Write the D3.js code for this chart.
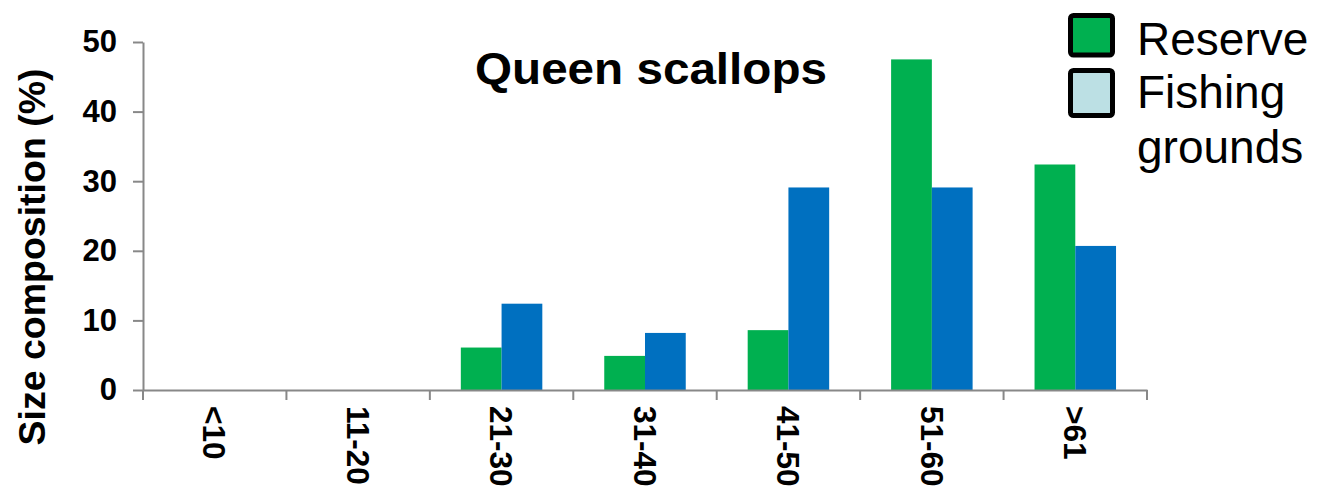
<!DOCTYPE html>
<html>
<head>
<meta charset="utf-8">
<script src="https://cdn.jsdelivr.net/npm/d3@7"></script>
<style>
  html, body { margin: 0; padding: 0; background: #fff; }
  svg { display: block; font-family: "Liberation Sans", Arial, sans-serif; }
</style>
</head>
<body>
<svg id="chart" width="1318" height="494"></svg>
<script>
const categories = ["<10", "11-20", "21-30", "31-40", "41-50", "51-60", ">61"];
const seriesNames = ["Reserve", "Fishing grounds"];
const reserveValues = [0, 0, 6.1, 4.9, 8.6, 47.5, 32.4];
const fishingValues = [0, 0, 12.4, 8.2, 29.1, 29.1, 20.7];
const yTicks = [0, 10, 20, 30, 40, 50];
const titleText = "Queen scallops";
const yLabel = "Size composition (%)";

const barColors = {"Reserve": "#00B050", "Fishing grounds": "#0070C0"};
const legendColors = {"Reserve": "#00B050", "Fishing grounds": "#BCE0E4"};

const svg = d3.select("#chart");
const plotLeft = 143, plotRight = 1147, plotTop = 42, plotBottom = 390;

const x0 = d3.scaleBand().domain(categories).range([plotLeft, plotRight]).paddingInner(0).paddingOuter(0);
const x1 = d3.scaleBand().domain(seriesNames).range([0, x0.bandwidth()]).paddingInner(0).paddingOuter(0.76);
const y = d3.scaleLinear().domain([0, 50]).range([plotBottom, plotTop]);

const data = categories.map((c, i) => ({cat: c, vals: [
  {s: "Reserve", v: reserveValues[i]},
  {s: "Fishing grounds", v: fishingValues[i]}
]}));

// bars
const g = svg.append("g");
g.selectAll("g.cat").data(data).join("g")
  .attr("class", "cat")
  .attr("transform", d => `translate(${x0(d.cat)},0)`)
  .selectAll("rect").data(d => d.vals.filter(e => e.v > 0)).join("rect")
  .attr("x", d => x1(d.s))
  .attr("y", d => y(d.v))
  .attr("width", x1.bandwidth())
  .attr("height", d => y(0) - y(d.v))
  .attr("fill", d => barColors[d.s]);

// y axis
const yAxis = svg.append("g").attr("transform", `translate(${plotLeft},0)`)
  .call(d3.axisLeft(y).tickValues(yTicks).tickSize(10).tickSizeOuter(0).tickPadding(16));
yAxis.select(".domain").attr("stroke", "#888").attr("stroke-width", 2);
yAxis.selectAll(".tick line").attr("stroke", "#888").attr("stroke-width", 2);
yAxis.selectAll(".tick text").attr("font-size", 31).attr("font-weight", "bold")
  .attr("fill", "#000").attr("font-family", "Liberation Sans, Arial, sans-serif");

// x axis
const xAxis = svg.append("g").attr("transform", `translate(0,${plotBottom})`)
  .call(d3.axisBottom(x0).tickSize(0).tickFormat(""));
xAxis.select(".domain").attr("stroke", "#888").attr("stroke-width", 2);
xAxis.selectAll(".tick line").remove();
const boundaries = categories.map(c => x0(c)).concat([plotRight]);
xAxis.selectAll("line.bound").data(boundaries).join("line")
  .attr("class", "bound")
  .attr("x1", d => d).attr("x2", d => d)
  .attr("y1", 0).attr("y2", 10)
  .attr("stroke", "#888").attr("stroke-width", 2);

svg.append("g").selectAll("text").data(categories).join("text")
  .attr("transform", d => `translate(${x0(d) + x0.bandwidth() / 2},406) rotate(90)`)
  .attr("dy", "0.36em")
  .attr("text-anchor", "start")
  .attr("font-size", 31.5).attr("font-weight", "bold")
  .text(d => d);

// y label
svg.append("text")
  .attr("transform", `translate(45,257) rotate(-90)`)
  .attr("text-anchor", "middle")
  .attr("font-size", 37.5).attr("font-weight", "bold")
  .text(yLabel);

// title
svg.append("text")
  .attr("x", 475).attr("y", 84)
  .attr("font-size", 45).attr("font-weight", "bold")
  .attr("textLength", 352).attr("lengthAdjust", "spacingAndGlyphs")
  .text(titleText);

// legend
const legendBoxes = [{s: "Reserve", y: 15.5, h: 39.5}, {s: "Fishing grounds", y: 70.5, h: 45}];
svg.append("g").selectAll("rect").data(legendBoxes).join("rect")
  .attr("x", 1070.5).attr("y", d => d.y).attr("width", 42).attr("height", d => d.h)
  .attr("rx", 3)
  .attr("fill", d => legendColors[d.s]).attr("stroke", "#000").attr("stroke-width", 5);
const legendLines = [{t: "Reserve", y: 55}, {t: "Fishing", y: 108}, {t: "grounds", y: 163}];
svg.append("g").selectAll("text").data(legendLines).join("text")
  .attr("x", 1137).attr("y", d => d.y)
  .attr("font-size", 46)
  .text(d => d.t);
</script>
</body>
</html>
